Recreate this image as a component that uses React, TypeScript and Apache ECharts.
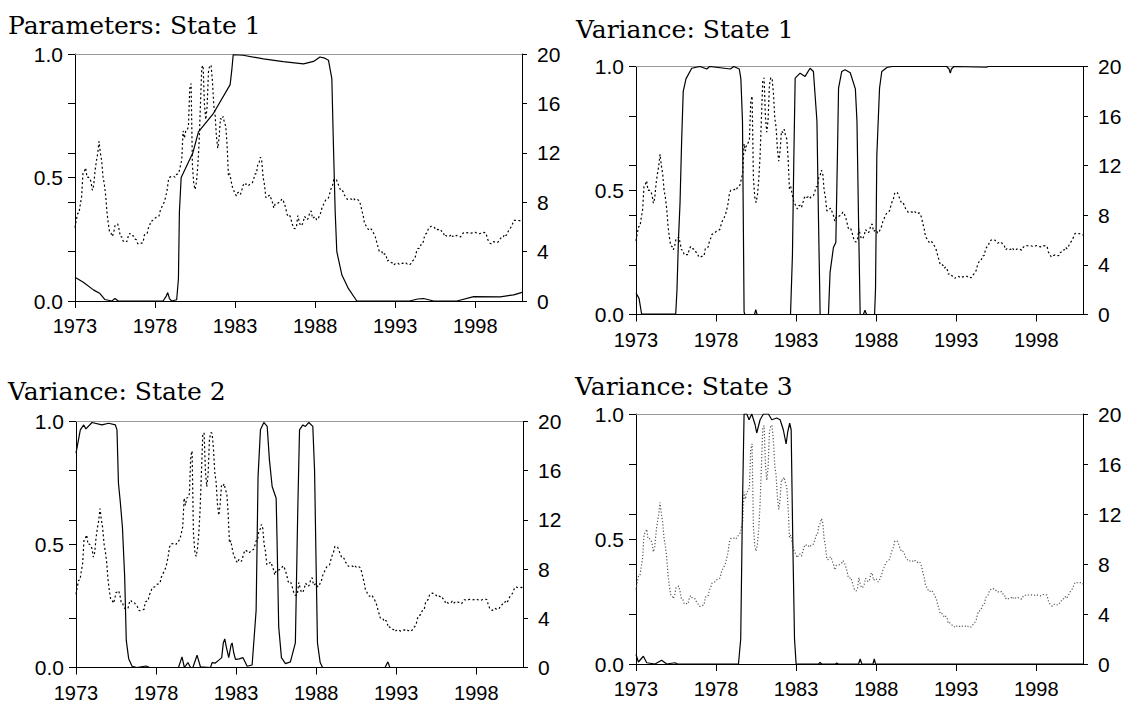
import React, { useEffect, useRef } from "react";
import * as echarts from "echarts";

// ---------- DATA ----------
const START_YEAR = 1973;
const xTickYears = [1973, 1978, 1983, 1988, 1993, 1998];
const leftTicks = [0, 0.5, 1.0];
const rightTicks = [0, 4, 8, 12, 16, 20];

// monthly short-term interest rate, Jan 1973 .. Dec 2000 (right axis)
const rate1970s = [
  5.94, 6.58, 7.09, 7.12, 7.84, 8.49, 10.4, 10.5, 10.78, 10.01, 10.03, 9.95,
  9.65, 8.97, 9.35, 10.51, 11.31, 11.93, 12.92, 12.01, 11.34, 10.06, 9.45, 8.53,
  7.13, 6.24, 5.54, 5.49, 5.22, 5.55, 6.1, 6.14, 6.24, 5.82, 5.22, 5.2,
  4.87, 4.77, 4.84, 4.82, 5.29, 5.48, 5.31, 5.29, 5.25, 5.02, 4.95, 4.65,
  4.61, 4.68, 4.69, 4.73, 5.35, 5.39, 5.42, 5.9, 6.14, 6.47, 6.51, 6.56,
  6.7, 6.78, 6.79, 6.89, 7.36, 7.6, 7.81, 8.04, 8.45, 8.96, 9.76, 10.03,
  10.07, 10.06, 10.09, 10.01, 10.24, 10.29, 10.47, 10.94, 11.43, 13.77, 13.18, 13.78,
];
const rate1980s = [
  13.82, 14.13, 17.19, 17.61, 10.98, 9.47, 9.03, 9.61, 10.87, 12.81, 15.85, 18.9,
  19.08, 15.93, 14.7, 15.72, 18.52, 19.1, 19.04, 17.82, 15.87, 15.08, 13.31, 12.37,
  13.22, 14.78, 14.68, 14.94, 14.45, 14.15, 12.59, 10.12, 10.31, 9.71, 9.2, 8.95,
  8.68, 8.51, 8.77, 8.8, 8.63, 8.98, 9.37, 9.56, 9.45, 9.48, 9.34, 9.47,
  9.56, 9.59, 9.91, 10.29, 10.32, 11.06, 11.23, 11.64, 11.3, 9.99, 9.43, 8.38,
  8.35, 8.5, 8.58, 8.27, 7.97, 7.53, 7.88, 7.9, 7.92, 7.99, 8.05, 8.27,
  8.14, 7.86, 7.48, 6.99, 6.85, 6.92, 6.56, 6.17, 5.89, 5.85, 6.04, 6.91,
  6.43, 6.1, 6.13, 6.37, 6.85, 6.73, 6.58, 6.73, 7.22, 7.29, 6.69, 6.77,
  6.83, 6.58, 6.58, 6.87, 7.09, 7.51, 7.75, 8.01, 8.19, 8.3, 8.35, 8.76,
  9.12, 9.36, 9.85, 9.84, 9.81, 9.53, 9.24, 8.99, 9.02, 8.84, 8.55, 8.45,
];
const rate1990s = [
  8.23, 8.24, 8.28, 8.26, 8.18, 8.29, 8.15, 8.13, 8.2, 8.11, 7.81, 7.31,
  6.91, 6.25, 6.12, 5.91, 5.78, 5.9, 5.82, 5.66, 5.45, 5.21, 4.81, 4.43,
  4.03, 4.06, 3.98, 3.73, 3.82, 3.76, 3.25, 3.3, 3.22, 3.1, 3.09, 2.92,
  3.02, 3.03, 3.07, 2.96, 3.0, 3.04, 3.06, 3.03, 3.09, 2.99, 3.02, 2.96,
  3.05, 3.25, 3.34, 3.56, 4.01, 4.25, 4.26, 4.47, 4.73, 4.76, 5.29, 5.45,
  5.53, 5.92, 5.98, 6.05, 6.01, 6.0, 5.85, 5.74, 5.8, 5.76, 5.8, 5.6,
  5.56, 5.22, 5.31, 5.22, 5.24, 5.27, 5.4, 5.22, 5.3, 5.24, 5.31, 5.29,
  5.25, 5.19, 5.39, 5.51, 5.5, 5.56, 5.52, 5.54, 5.54, 5.5, 5.52, 5.5,
  5.56, 5.51, 5.49, 5.45, 5.49, 5.56, 5.54, 5.55, 5.51, 5.07, 4.83, 4.68,
  4.63, 4.76, 4.81, 4.74, 4.74, 4.76, 4.99, 5.07, 5.22, 5.2, 5.42, 5.3,
];
const rate2000 = [5.45, 5.73, 5.85, 6.02, 6.27, 6.53, 6.54, 6.5, 6.52, 6.51, 6.51, 6.4];

// smoothed regime probabilities [decimal year, probability] (left axis)
const parametersState1 = [
  [1973.0, 0.096], [1973.52, 0.076], [1974.15, 0.045], [1974.56, 0.03], [1974.87, 0.006],
  [1975.3, 0], [1975.5, 0.01], [1975.7, 0], [1978.5, 0], [1978.7, 0.02], [1978.79, 0.034],
  [1978.9, 0.01], [1979.04, 0], [1979.35, 0.005], [1979.46, 0.09], [1979.52, 0.36],
  [1979.63, 0.5], [1980.35, 0.598], [1980.71, 0.685], [1981.65, 0.76], [1982.69, 0.876],
  [1982.8, 0.94], [1982.88, 0.997], [1983.5, 0.995], [1984.77, 0.98], [1986.0, 0.969],
  [1987.27, 0.96], [1987.9, 0.97], [1988.3, 0.988], [1988.6, 0.983], [1988.83, 0.975],
  [1989.04, 0.9], [1989.14, 0.63], [1989.25, 0.36], [1989.35, 0.2], [1989.67, 0.105],
  [1990.08, 0.05], [1990.6, 0], [1993.9, 0], [1994.4, 0.008], [1994.77, 0.01], [1995.4, 0],
  [1996.85, 0], [1997.9, 0.018], [1999.56, 0.017], [2000.4, 0.025], [2000.92, 0.035],
];
const varianceState1 = [
  [1973.0, 0.087], [1973.19, 0.065], [1973.35, 0.002], [1975.48, 0.002], [1975.56, 0.1],
  [1975.65, 0.3], [1975.75, 0.45], [1975.85, 0.7], [1975.95, 0.9], [1976.12, 0.95],
  [1976.48, 0.993], [1977.0, 1.0], [1977.42, 0.99], [1977.6, 1.0], [1978.9, 0.99],
  [1979.1, 1.0], [1979.45, 0.99], [1979.55, 0.95], [1979.65, 0.78], [1979.75, 0.01],
  [1979.8, 0.0], [1980.4, 0.0], [1980.48, 0.02], [1980.56, 0.0], [1982.65, 0.0],
  [1982.77, 0.24], [1982.85, 0.6], [1982.94, 0.953], [1983.25, 0.973], [1983.56, 0.96],
  [1983.87, 0.993], [1984.08, 0.98], [1984.3, 0.78], [1984.4, 0.374], [1984.5, 0.0],
  [1985.02, 0.0], [1985.12, 0.17], [1985.33, 0.27], [1985.48, 0.29], [1985.58, 0.64],
  [1985.65, 0.913], [1985.85, 0.98], [1986.06, 0.987], [1986.38, 0.975], [1986.7, 0.91],
  [1986.8, 0.78], [1986.9, 0.374], [1987.0, 0.0], [1987.2, 0.0], [1987.3, 0.017],
  [1987.4, 0.0], [1987.9, 0.0], [1987.96, 0.105], [1988.04, 0.64], [1988.21, 0.913],
  [1988.35, 0.98], [1988.67, 0.996], [1989.0, 1.0], [1992.4, 1.0], [1992.55, 0.99],
  [1992.63, 0.973], [1992.7, 0.99], [1992.85, 1.0], [1994.9, 0.997], [1995.0, 1.0],
  [2000.92, 1.0],
];
const varianceState2 = [
  [1973.0, 0.871], [1973.27, 0.966], [1973.48, 0.986], [1973.62, 0.97], [1974.0, 0.996],
  [1974.62, 0.986], [1975.04, 0.993], [1975.46, 0.986], [1975.56, 0.966], [1975.65, 0.75],
  [1975.77, 0.67], [1975.9, 0.57], [1976.04, 0.369], [1976.14, 0.11], [1976.29, 0.036],
  [1976.5, 0.005], [1976.8, 0], [1977.37, 0.006], [1977.6, 0], [1979.4, 0],
  [1979.62, 0.043], [1979.77, 0], [1979.99, 0.02], [1980.15, 0.0], [1980.3, 0.0],
  [1980.56, 0.05], [1980.77, 0.003], [1981.4, 0.0], [1981.5, 0.02], [1981.7, 0.018],
  [1981.92, 0.03], [1982.1, 0.04], [1982.2, 0.1], [1982.29, 0.116], [1982.4, 0.08],
  [1982.54, 0.04], [1982.68, 0.09], [1982.75, 0.1], [1982.85, 0.06], [1982.96, 0.033],
  [1983.2, 0.035], [1983.43, 0.04], [1983.69, 0.005], [1984.0, 0.01], [1984.25, 0.233],
  [1984.37, 0.776], [1984.52, 0.966], [1984.73, 0.996], [1984.94, 0.98], [1985.08, 0.844],
  [1985.25, 0.736], [1985.5, 0.688], [1985.56, 0.505], [1985.66, 0.165], [1985.83, 0.04],
  [1986.08, 0.016], [1986.39, 0.023], [1986.7, 0.1], [1986.85, 0.64], [1986.96, 0.966],
  [1987.17, 0.986], [1987.33, 0.98], [1987.54, 0.996], [1987.79, 0.98], [1987.9, 0.8],
  [1988.0, 0.4], [1988.08, 0.1], [1988.25, 0.02], [1988.4, 0], [1992.3, 0],
  [1992.48, 0.023], [1992.6, 0], [2000.92, 0],
];
const varianceState3 = [
  [1973.0, 0.038], [1973.15, 0.008], [1973.46, 0.031], [1973.67, 0.005], [1974.19, 0],
  [1974.6, 0.015], [1974.92, 0], [1975.44, 0.005], [1975.6, 0], [1979.4, 0],
  [1979.54, 0.1], [1979.65, 0.636], [1979.75, 1.0], [1979.92, 1.0], [1980.06, 0.977],
  [1980.23, 1.0], [1980.44, 0.957], [1980.54, 0.924], [1980.75, 0.977], [1980.96, 1.0],
  [1981.27, 1.0], [1981.48, 0.977], [1981.79, 0.984], [1982.0, 0.977], [1982.2, 0.937],
  [1982.375, 0.88], [1982.48, 0.93], [1982.6, 0.963], [1982.69, 0.937], [1982.79, 0.5],
  [1982.9, 0.1], [1983.0, 0], [1984.4, 0], [1984.5, 0.006], [1984.6, 0], [1985.45, 0],
  [1985.54, 0.004], [1985.63, 0], [1986.9, 0], [1987.0, 0.02], [1987.1, 0], [1987.8, 0],
  [1987.88, 0.02], [1987.96, 0], [2000.92, 0],
];

const titles = ["Parameters: State 1", "Variance: State 1", "Variance: State 2", "Variance: State 3"];

// ---------- LAYOUT ----------
const PLOT_W = 447;
const panels = [
  { title: titles[0], probs: parametersState1, left: 75, top: 54, height: 247, tLeft: 8, tTop: 11, rateColor: "#000", rateDash: [2, 2.5] },
  { title: titles[1], probs: varianceState1, left: 636, top: 66.5, height: 248, tLeft: 576, tTop: 15, rateColor: "#000", rateDash: [2, 2.5] },
  { title: titles[2], probs: varianceState2, left: 76, top: 421.5, height: 246, tLeft: 8, tTop: 377, rateColor: "#000", rateDash: [2, 2.5] },
  { title: titles[3], probs: varianceState3, left: 636, top: 414, height: 250, tLeft: 575, tTop: 372, rateColor: "#555", rateDash: [1.2, 2] },
];

const LABEL_FONT = "Liberation Sans";
const TITLE_FONT = "DejaVu Serif";

function buildOption() {
  const rates = [...rate1970s, ...rate1980s, ...rate1990s, ...rate2000];
  const xMax = (rates.length - 1) / 12;
  const rateData = rates.map((v, i) => [i / 12, v]);
  const xInterval = xTickYears[1] - xTickYears[0];
  const leftInterval = leftTicks[1] - leftTicks[0];
  const rightInterval = rightTicks[1] - rightTicks[0];

  const grid: any[] = [];
  const xAxis: any[] = [];
  const yAxis: any[] = [];
  const series: any[] = [];
  const title: any[] = [];

  panels.forEach((p, i) => {
    grid.push({ left: p.left, top: p.top, width: PLOT_W, height: p.height, containLabel: false });
    title.push({
      text: p.title, left: p.tLeft, top: p.tTop, padding: 0,
      textStyle: { fontFamily: TITLE_FONT, fontSize: 25, fontWeight: "normal", color: "#000", lineHeight: 28 },
    });
    // bottom year axis
    xAxis.push({
      type: "value", gridIndex: i, position: "bottom", min: 0, max: xMax, interval: xInterval,
      axisLine: { show: true, onZero: false, lineStyle: { color: "#000", width: 1 } },
      axisTick: { show: true, length: 7, lineStyle: { color: "#000", width: 1 } },
      axisLabel: {
        show: true, margin: 15, color: "#000", fontFamily: LABEL_FONT, fontSize: 20,
        formatter: (v: number) => String(Math.round(START_YEAR + v)), showMaxLabel: false,
      },
      splitLine: { show: false },
    });
    // top border (gray)
    xAxis.push({
      type: "value", gridIndex: i, position: "top", min: 0, max: xMax,
      axisLine: { show: true, onZero: false, lineStyle: { color: "#9a9a9a", width: 1 } },
      axisTick: { show: false }, axisLabel: { show: false }, splitLine: { show: false },
    });
    // left probability axis
    yAxis.push({
      type: "value", gridIndex: i, position: "left", min: leftTicks[0], max: leftTicks[leftTicks.length - 1],
      interval: leftInterval,
      axisLine: { show: true, onZero: false, lineStyle: { color: "#000", width: 1 } },
      axisTick: { show: true, length: 7, lineStyle: { color: "#000", width: 1 } },
      axisLabel: { margin: 12, color: "#000", fontFamily: LABEL_FONT, fontSize: 21, formatter: (v: number) => v.toFixed(1) },
      splitLine: { show: false },
    });
    // right rate axis (outer ticks + labels)
    yAxis.push({
      type: "value", gridIndex: i, position: "right", min: rightTicks[0], max: rightTicks[rightTicks.length - 1],
      interval: rightInterval,
      axisLine: { show: true, onZero: false, lineStyle: { color: "#000", width: 1 } },
      axisTick: { show: true, length: 5, lineStyle: { color: "#000", width: 1 } },
      axisLabel: { margin: 15, color: "#000", fontFamily: LABEL_FONT, fontSize: 21 },
      splitLine: { show: false },
    });
    // right rate axis inner ticks
    yAxis.push({
      type: "value", gridIndex: i, position: "right", min: rightTicks[0], max: rightTicks[rightTicks.length - 1],
      interval: rightInterval,
      axisLine: { show: false },
      axisTick: { show: true, inside: true, length: 7, lineStyle: { color: "#000", width: 1 } },
      axisLabel: { show: false }, splitLine: { show: false },
    });

    series.push({
      type: "line", name: "rate" + i, xAxisIndex: 2 * i, yAxisIndex: 3 * i + 1,
      data: rateData, showSymbol: false, symbol: "none",
      lineStyle: { color: p.rateColor, width: 1.2, type: p.rateDash },
      z: 2,
    });
    series.push({
      type: "line", name: "prob" + i, xAxisIndex: 2 * i, yAxisIndex: 3 * i,
      data: p.probs.map(([yr, v]) => [yr - START_YEAR, v]), showSymbol: false, symbol: "none",
      lineStyle: { color: "#000", width: 1.2 },
      z: 3,
    });
  });

  return { animation: false, backgroundColor: "#fff", title, grid, xAxis, yAxis, series };
}

export default function App() {
  const ref = useRef<HTMLDivElement>(null);
  useEffect(() => {
    if (!ref.current) return;
    const chart = echarts.init(ref.current, undefined, { renderer: "svg" });
    chart.setOption(buildOption() as any);
    return () => chart.dispose();
  }, []);
  return (
    <div
      ref={ref}
      style={{ position: "absolute", left: 0, top: 0, width: 1133, height: 711, background: "#fff" }}
    />
  );
}
